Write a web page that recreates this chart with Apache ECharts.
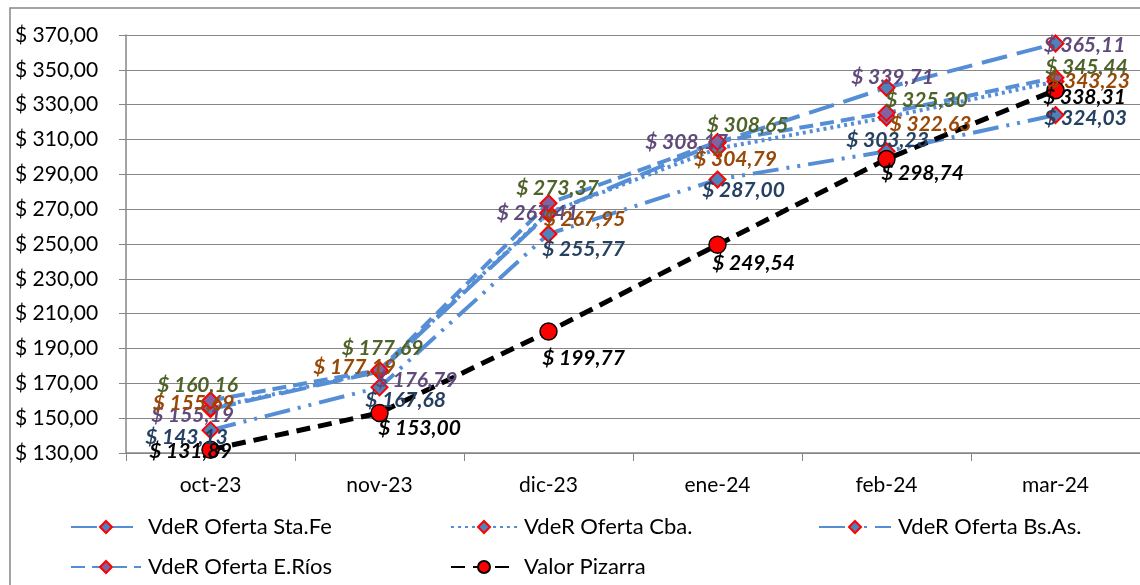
<!DOCTYPE html>
<html><head><meta charset="utf-8">
<script src="https://cdn.jsdelivr.net/npm/echarts@6/dist/echarts.min.js"></script>
<style>html,body{margin:0;padding:0;background:#fff}#c{width:1140px;height:585px}</style>
</head><body><div id="c"></div>
<script>
const categories = ['oct-23','nov-23','dic-23','ene-24','feb-24','mar-24'];
const yTicks = [130,150,170,190,210,230,250,270,290,310,330,350,370];
const staFe  = [155.19,176.79,267.41,308.17,339.71,365.11];
const cba    = [155.69,177.19,267.95,304.79,322.63,343.23];
const bsAs   = [143.13,167.68,255.77,287.00,303.23,324.03];
const eRios  = [160.16,177.69,273.37,308.65,325.30,345.44];
const pizarra= [131.89,153.00,199.77,249.54,298.74,338.31];

// label offsets (style, not data)
const staFeOff  = [[-18,6],[37,9],[-11,0],[-31,0],[6,-11],[29,2]];
const cbaOff    = [[-17,-5],[-25,-4],[36,6],[18,11],[44,7],[33,0]];
const bsAsOff   = [[-24,7],[26,13],[35,15],[26,11],[1,-11],[30,3]];
const eRiosOff  = [[-13,-15],[3,-22],[9,-15],[30,-17],[40,-13],[31,-11]];
const pizOff    = [[-20,2],[40,15],[35,27],[36,18],[36,14],[29,7]];

const fmt = v => '$ ' + v.toFixed(2).replace('.', ',');
const FONT = 'Lato';
const LINE = '#558ed5';
const LBL = 21;

function mk(name, vals, offs, color, dash, fill) {
  return {
    name, type: 'line',
    data: vals.map((v,i)=>({value:v, label:{offset:offs[i]}})),
    symbol: 'diamond', symbolSize: 16,
    itemStyle: {color: fill, borderColor: '#ff0000', borderWidth: 2},
    lineStyle: {color: LINE, width: 4, type: dash, cap: 'butt'},
    label: {show: true, position: 'inside', formatter: p => fmt(p.value),
      color, fontFamily: FONT, fontWeight: 'bold', fontStyle: 'italic', fontSize: LBL},
    emphasis: {disabled: true}, animation: false
  };
}

const series = [
  mk('VdeR Oferta Sta.Fe', staFe, staFeOff, '#604a7b', [26,10], '#4f81bd'),
  mk('VdeR Oferta Cba.', cba, cbaOff, '#984807', [3,4], '#4f81bd'),
  mk('VdeR Oferta Bs.As.', bsAs, bsAsOff, '#254061', [26,8,3,8,3,8], '#4f81bd'),
  mk('VdeR Oferta E.Ríos', eRios, eRiosOff, '#4f6228', [14,7], '#8064a2'),
  {
    name: 'Valor Pizarra', type: 'line',
    data: pizarra.map((v,i)=>({value:v, label:{offset:pizOff[i]}})),
    symbol: 'circle', symbolSize: 17,
    itemStyle: {color: '#ff0000', borderColor: '#000', borderWidth: 1.5},
    lineStyle: {color: '#000', width: 5, type: [14,8], cap: 'butt'},
    label: {show: true, position: 'inside', formatter: p => fmt(p.value),
      color: '#000', fontFamily: FONT, fontWeight: 'bold', fontStyle: 'italic', fontSize: LBL},
    emphasis: {disabled: true}, animation: false, z: 3
  }
];

function leg(name, left, top, w) {
  return {data:[name], left, top, itemWidth: w, itemHeight: 15, itemGap: 0,
    textStyle: {fontFamily: FONT, fontSize: 22, color: '#000', padding:[0,0,0,2]},
    selectedMode: false, padding: 0};
}

const chart = echarts.init(document.getElementById('c'));
chart.setOption({
  backgroundColor: '#fff',
  animation: false,
  graphic: [{type:'rect', shape:{x:10, y:8, width:1160, height:600},
    style:{fill:'none', stroke:'#868686', lineWidth:1.5}, silent:true}],
  grid: {left: 126, top: 35, width: 1020, height: 418, containLabel: false},
  legend: [
    leg('VdeR Oferta Sta.Fe', 70, 516, 70),
    leg('VdeR Oferta Cba.', 450, 516, 66),
    leg('VdeR Oferta Bs.As.', 818, 516, 72),
    leg('VdeR Oferta E.Ríos', 70, 556, 70),
    leg('Valor Pizarra', 450, 556, 66)
  ],
  xAxis: {type:'category', data: categories, boundaryGap: true,
    axisLine:{lineStyle:{color:'#868686', width:1.5}},
    axisTick:{show:true, length:8, inside:false, lineStyle:{color:'#868686'}},
    axisLabel:{fontFamily: FONT, fontSize: 21, color:'#000', margin: 22}},
  yAxis: {type:'value', min: yTicks[0], max: yTicks[yTicks.length-1], interval: 20,
    axisLine:{show:true, lineStyle:{color:'#868686', width:1.5}},
    axisTick:{show:true, length:7, lineStyle:{color:'#868686'}},
    splitLine:{lineStyle:{color:'#868686', width:1.2}},
    axisLabel:{fontFamily: FONT, fontSize: 21, color:'#000', margin: 20,
      align:'left', padding:[0,0,0,-91], formatter: v => fmt(v)}},
  series
});
</script></body></html>
